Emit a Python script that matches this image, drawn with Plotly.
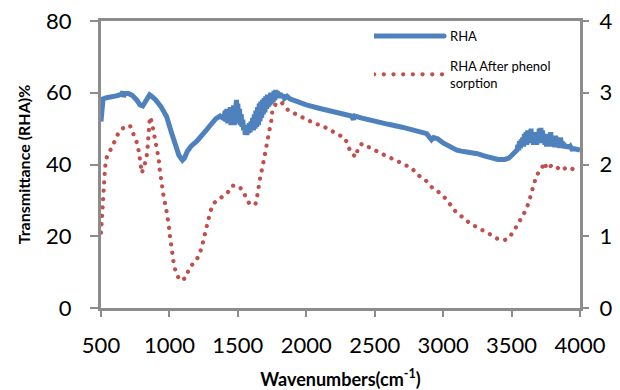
import plotly.graph_objects as go

# RHA (left axis, Transmittance %)
rha_wn = [500, 505, 515, 540, 580, 620, 650, 660, 665, 672, 700, 730, 760, 785, 805, 830, 855, 870, 900, 940,
          980, 1010, 1040, 1070, 1095, 1110, 1130, 1160, 1200, 1240, 1270, 1300, 1340, 1370, 1390,
          1400, 1408, 1414, 1420, 1426, 1432, 1438, 1444, 1450, 1456, 1462, 1468, 1474, 1480, 1486, 1490, 1494,
          1500, 1506, 1512, 1518, 1524, 1530, 1536, 1542, 1548, 1554, 1560, 1566, 1572, 1578, 1584, 1590, 1596,
          1602, 1608, 1614, 1620, 1626, 1632, 1638, 1644, 1650, 1656, 1662, 1668, 1674, 1680, 1686, 1692, 1698,
          1704, 1710, 1716, 1722, 1728, 1734, 1740, 1746, 1752, 1758, 1764, 1770, 1776, 1782, 1788, 1794, 1800,
          1806, 1812, 1820, 1830, 1840, 1860, 1880, 1900, 1950, 2000, 2100, 2200, 2300,
          2330, 2345, 2355, 2400, 2500, 2600, 2700, 2800, 2880, 2900, 2915, 2930, 2960, 3000, 3050, 3100, 3150,
          3200, 3250, 3300, 3350, 3400, 3450, 3480, 3500, 3520, 3540, 3546, 3552, 3558, 3564, 3570, 3576, 3582,
          3588, 3594, 3600, 3606, 3612, 3618, 3624, 3630, 3636, 3642, 3648, 3654, 3660, 3666, 3672, 3678, 3684,
          3690, 3696, 3702, 3708, 3714, 3720, 3726, 3732, 3738, 3744, 3750, 3756, 3762, 3768, 3774, 3780, 3786,
          3792, 3798, 3804, 3810, 3816, 3822, 3828, 3834, 3840, 3846, 3852, 3858, 3864, 3870, 3876, 3882, 3888,
          3894, 3900, 3910, 3920, 3930, 3940, 3960, 3980, 4000]
rha_t = [52, 56, 58.3, 58.6, 58.8, 59.2, 59.6, 60.3, 58.8, 59.8, 59.8, 59.2, 58, 56.6, 56.3, 57.8, 59.4, 59, 58, 56,
         53.3, 49.5, 45.5, 42.5, 41.2, 41.8, 43.6, 45.2, 46.5, 48, 49.6, 51, 52.8, 53.5, 53,
         53.5, 55, 52, 55.5, 51.5, 54.5, 52, 56, 51, 55, 52.5, 56.5, 51, 55, 53, 58, 52.5,
         57, 51.5, 55.5, 51, 54, 50.5, 52.5, 49.5, 51, 48.3, 50.5, 48.2, 51, 48.8, 51.5, 49, 52,
         49.5, 53, 49.5, 54, 50, 55, 50.5, 56, 51, 57, 52, 57.5, 53, 58, 54, 58.5, 54.5,
         59, 55.5, 59.5, 56, 59.5, 56.5, 60, 57, 60, 57.5, 60.5, 58, 60.8, 58.5, 60.5, 58.5, 60,
         58.5, 59.8, 58.6, 59.4, 58.4, 59, 58.3, 58, 57.2, 56.6, 55.6, 54.8, 54,
         53.5, 52.6, 53.5, 53, 52, 51.2, 50.4, 49.5, 48.6, 47.6, 46.9, 47.5, 47.2, 46, 44.8, 44, 43.6,
         43.4, 43, 42.4, 41.8, 41.4, 41.4, 41.8, 42.5, 43.5, 44, 45.5, 44, 46.5, 44.5, 47, 45, 47.5,
         45, 48.5, 45.5, 49, 45.5, 49.5, 46, 48.5, 46, 50, 46, 49, 45.5, 48, 45.5, 48.5, 45.5,
         49, 46, 50, 46, 50.2, 46.5, 49.5, 46, 48.5, 45.5, 47.5, 45, 47, 45, 48.5, 45.5, 49,
         45.5, 48, 45, 47, 44.8, 48, 45, 47.5, 45, 46.5, 44.6, 47.5, 45, 46.5, 44.6, 46, 44.5,
         45.5, 44.5, 45.5, 44.5, 45, 44.3, 44.4, 44.2, 44]

# RHA after phenol sorption (right axis)
phe_wn = [500, 507, 514, 522, 530, 540, 566, 595, 624, 660, 711, 740, 762, 777, 784, 798, 820, 835, 842, 849,
          857, 871, 886, 900, 915, 922, 929, 937, 951, 958, 973, 988, 995, 1002, 1009, 1017, 1031, 1046, 1075,
          1119, 1140, 1170, 1213, 1235, 1250, 1264, 1279, 1300, 1330, 1381, 1424, 1461, 1511, 1548, 1555, 1584,
          1628, 1642, 1650, 1664, 1679, 1693, 1708, 1715, 1730, 1744, 1751, 1780, 1824, 1868, 1934, 1999, 2057,
          2116, 2181, 2232, 2283, 2305, 2327, 2363, 2378, 2407, 2465, 2523, 2588, 2647, 2712, 2770, 2814, 2872,
          2916, 2967, 3018, 3061, 3091, 3142, 3193, 3243, 3294, 3345, 3396, 3447, 3483, 3513, 3549, 3578, 3607,
          3629, 3644, 3665, 3687, 3716, 3738, 3760, 3796, 3833, 3862, 3906, 3949, 3993]
phe_v = [1.05, 1.30, 1.555, 1.835, 1.965, 2.09, 2.18, 2.305, 2.425, 2.505, 2.545, 2.425, 2.305, 2.175, 2.04, 1.88,
         2.005, 2.135, 2.275, 2.53, 2.665, 2.595, 2.46, 2.335, 2.205, 2.075, 1.935, 1.805, 1.675, 1.545, 1.415,
         1.285, 1.16, 1.025, 0.895, 0.76, 0.63, 0.50, 0.385, 0.415, 0.53, 0.615, 0.715, 0.84, 0.965, 1.095, 1.22,
         1.355, 1.47, 1.535, 1.605, 1.705, 1.695, 1.595, 1.555, 1.455, 1.44, 1.57, 1.695, 1.825, 1.955, 2.08, 2.21,
         2.34, 2.47, 2.605, 2.73, 2.86, 2.855, 2.755, 2.695, 2.62, 2.575, 2.54, 2.48, 2.42, 2.365, 2.24, 2.16,
         2.105, 2.23, 2.29, 2.23, 2.175, 2.115, 2.065, 2.005, 1.95, 1.855, 1.78, 1.685, 1.615, 1.525, 1.425,
         1.345, 1.265, 1.185, 1.13, 1.085, 1.025, 0.965, 0.945, 0.98, 1.06, 1.175, 1.28, 1.37, 1.495, 1.625,
         1.74, 1.865, 1.92, 2.03, 1.935, 1.995, 1.96, 1.915, 1.965, 1.935, 1.95]

x_ticks = [500, 1000, 1500, 2000, 2500, 3000, 3500, 4000]
y_ticks = [0, 20, 40, 60, 80]
y2_ticks = [0, 1, 2, 3, 4]

FONT = "Lato"
AXIS = "#8C8C8C"

fig = go.Figure()
fig.add_trace(go.Scatter(x=rha_wn, y=rha_t, mode="lines", name="RHA",
                         line=dict(color="#4F81BD", width=5), legendgroup="a"))
fig.add_trace(go.Scatter(x=phe_wn, y=phe_v, mode="lines", name="RHA After phenol<br>sorption",
                         line=dict(color="#C0504D", width=4.2, dash="dot"), yaxis="y2", legendgroup="b"))

fig.update_layout(
    width=620, height=390,
    margin=dict(l=101, r=40, t=21, b=82, autoexpand=False),
    paper_bgcolor="white", plot_bgcolor="white",
    font=dict(family=FONT, color="black"),
    showlegend=True,
    legend=dict(x=0.57, y=1.0, xanchor="left", yanchor="top", bgcolor="rgba(0,0,0,0)",
                font=dict(size=13, family=FONT), tracegroupgap=10, itemwidth=66),
    xaxis=dict(range=[500, 4000], tickvals=x_ticks, ticks="outside", ticklen=6, tickwidth=2,
               tickcolor=AXIS, showline=True, linewidth=3, linecolor=AXIS, mirror=True,
               showgrid=False, zeroline=False, tickfont=dict(size=22, family=FONT),
               ticklabelstandoff=10, automargin=False,
               title=dict(text="<b>Wavenumbers(cm<sup>-1</sup>)</b>", font=dict(size=18, family=FONT),
                          standoff=18)),
    yaxis=dict(range=[0, 80], tickvals=y_ticks, ticks="outside", ticklen=8, tickwidth=2,
               tickcolor=AXIS, showline=True, linewidth=3, linecolor=AXIS, mirror=True,
               showgrid=False, zeroline=False, tickfont=dict(size=22, family=FONT),
               ticklabelstandoff=14, automargin=False,
               title=dict(text="<b>Transmittance (RHA)%</b>", font=dict(size=16, family=FONT),
                          standoff=12)),
    yaxis2=dict(range=[0, 4], tickvals=y2_ticks, overlaying="y", side="right", ticks="outside",
                ticklen=8, tickwidth=2, tickcolor=AXIS, showline=False, showgrid=False,
                zeroline=False, tickfont=dict(size=22, family=FONT), ticklabelstandoff=6,
                automargin=False),
)

# Round dotted style for the red series and longer legend samples (as in the original Excel chart)
post = """
var gd = document.getElementById('{plot_id}');
function restyleLines(){
  document.querySelectorAll('path.js-line').forEach(function(p){
    var s = (p.style.stroke || '').replace(/ /g, '');
    if (s === 'rgb(192,80,77)') {
      p.style.strokeLinecap = 'round';
      p.style.strokeDasharray = '0.1px,8.3px';
    }
  });
  document.querySelectorAll('.legend path.js-line').forEach(function(p){
    p.setAttribute('d', 'M0,0h70');
    var s = (p.style.stroke || '').replace(/ /g, '');
    if (s === 'rgb(192,80,77)') { p.style.strokeDasharray = '0.1px,9.6px'; }
    else { p.style.strokeLinecap = 'round'; }
  });
}
restyleLines();
gd.on('plotly_afterplot', restyleLines);
"""

fig.write_html("out.html", post_script=post)
